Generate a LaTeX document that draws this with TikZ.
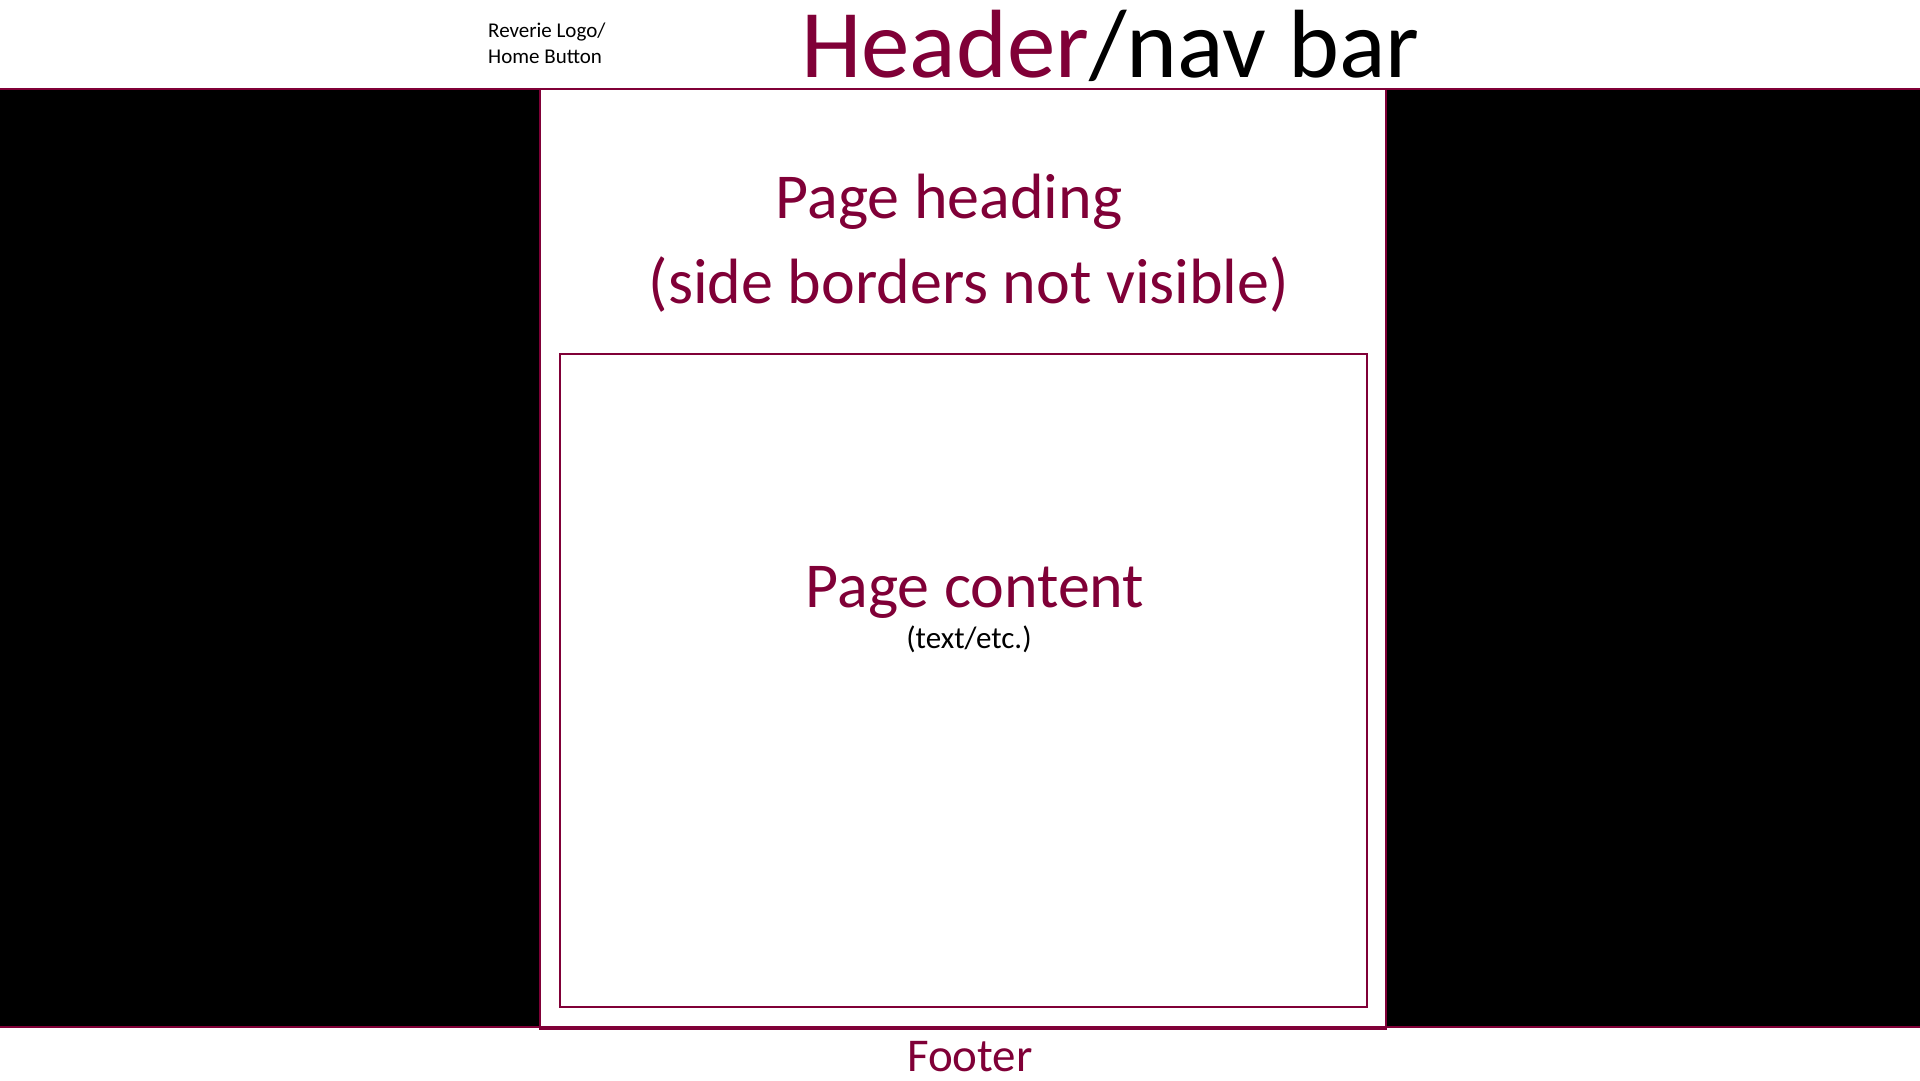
\documentclass[tikz,border=0pt]{standalone}
\usepackage{fontspec}
\setmainfont{Carlito}
\definecolor{maroon}{RGB}{128,0,55}
\tikzset{
  frame/.style={draw=maroon, line width=2pt},
  bignote/.style={text=maroon, font=\fontsize{64}{70}\selectfont, inner sep=0pt, anchor=base},
}
\begin{document}
\begin{tikzpicture}[x=1pt,y=-1pt]
\useasboundingbox[fill=white] (0,0) rectangle (1920,1080);
% side black panels
\fill[black] (0,89) rectangle (539,1027);
\fill[black] (1386,89) rectangle (1920,1027);
\draw[frame] (0,1027) -- (539,1027);
\draw[frame] (1386,1027) -- (1920,1027);
% header line
\draw[frame] (0,88.5) -- (1920,88.5);
% main page box
\draw[frame, fill=white] (539.5,88.5) rectangle (1386,1027);
\draw[draw=maroon, line width=4pt] (538.5,1028) -- (1387,1028);
% inner content box
\draw[frame] (560,354) rectangle (1367,1006.5);
% texts
\node[anchor=base west, inner sep=0pt, font=\fontsize{21}{26}\selectfont, align=left] (logo1) at (488,37) {Reverie Logo/};
\node[anchor=base west, inner sep=0pt, font=\fontsize{21}{26}\selectfont, align=left] (logo2) at (488,63) {Home Button};
\node[anchor=base west, inner sep=0pt, font=\fontsize{97}{100}\selectfont] (header) at (801,77) {\textcolor{maroon}{Header}/nav bar};
\node[bignote] (heading1) at (949,218) {Page heading};
\node[bignote] (heading2) at (969,303) {(side borders not visible)};
\node[bignote] (content) at (975,607) {Page content};
\node[anchor=base, inner sep=0pt, font=\fontsize{31}{36}\selectfont] (contentsub) at (969,648) {(text/etc.)};
\node[anchor=base, inner sep=0pt, text=maroon, font=\fontsize{47}{52}\selectfont] (footer) at (970,1071) {Footer};
\end{tikzpicture}
\end{document}
